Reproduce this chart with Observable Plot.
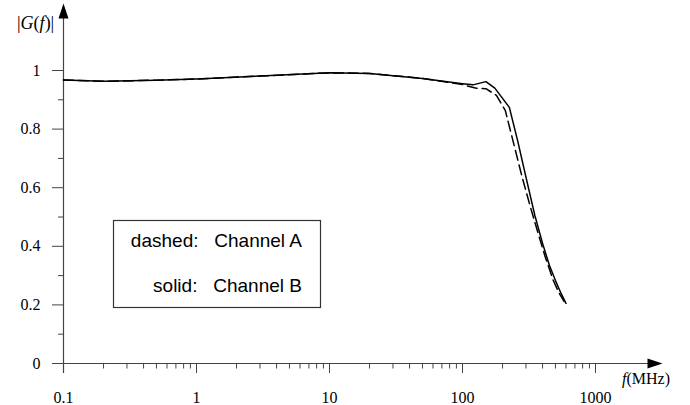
<!DOCTYPE html>
<html><head><meta charset="utf-8">
<script src="https://cdn.jsdelivr.net/npm/d3@7"></script>
<script src="https://cdn.jsdelivr.net/npm/@observablehq/plot@0.6"></script>
<style>
body{margin:0;background:#fff;}
#wrap{width:690px;height:405px;}
</style></head><body><div id="wrap"></div>
<script>
// ---- data (frequency in MHz, |G(f)|) ----
const freqB = [0.1, 0.2, 0.5, 1, 3, 10, 20, 50, 100, 120, 150, 175, 225, 260, 300, 350, 400, 450, 500, 550, 600];
const gainB = [0.968, 0.963, 0.967, 0.971, 0.981, 0.992, 0.990, 0.973, 0.955, 0.951, 0.962, 0.940, 0.874, 0.760, 0.636, 0.505, 0.410, 0.335, 0.283, 0.240, 0.205];
const freqA = [0.1, 0.2, 0.5, 1, 3, 10, 20, 50, 100, 125, 150, 180, 210, 250, 280, 325, 365, 420, 480, 530, 580];
const gainA = [0.968, 0.963, 0.967, 0.971, 0.981, 0.992, 0.990, 0.973, 0.952, 0.940, 0.938, 0.915, 0.863, 0.727, 0.638, 0.532, 0.454, 0.362, 0.285, 0.242, 0.212];

const xMajorTicks = [0.1, 1, 10, 100, 1000];
const xMinorTicks = [0.2,0.3,0.4,0.5,0.6,0.7,0.8,0.9, 2,3,4,5,6,7,8,9, 20,30,40,50,60,70,80,90, 200,300,400,500,600,700,800,900];
const yMajorTicks = [0, 0.2, 0.4, 0.6, 0.8, 1];
const yMinorTicks = [0.1, 0.3, 0.5, 0.7, 0.9];
const yLabelParts = [["|", false], ["G", true], ["(", false], ["f", true], [")|", false]];
const xLabelParts = [["f", true], ["(MHz)", false]];
const legendLabels = ["dashed:   Channel A", "solid:   Channel B"];

// axis extents in data units
const xAxisStart = 0.083, xAxisEnd = 2500, xArrowTip = 3190;
const yAxisStart = -0.034, yAxisEnd = 1.19, yArrowTip = 1.229;

const dataA = freqA.map((f, i) => ({f, g: gainA[i]}));
const dataB = freqB.map((f, i) => ({f, g: gainB[i]}));

const serif = "'Liberation Serif', 'Times New Roman', serif";
const sans = "'Liberation Sans', Arial, sans-serif";
const axisColor = "#444";

const arrowHead = {
  draw(context, l) {
    context.moveTo(0, -l);
    context.lineTo(-5, 0);
    context.lineTo(5, 0);
    context.closePath();
  }
};

const chart = Plot.plot({
  width: 690, height: 405,
  marginLeft: 63, marginRight: 95, marginTop: 70, marginBottom: 42,
  x: {type: "log", domain: [0.1, 1000]},
  y: {domain: [0, 1]},
  style: {fontFamily: serif, fontSize: "16px", color: "black", background: "white"},
  marks: [
    Plot.ruleY([0], {x1: xAxisStart, x2: xAxisEnd, stroke: axisColor, strokeWidth: 1.2}),
    Plot.ruleX([0.1], {y1: yAxisStart, y2: yAxisEnd, stroke: axisColor, strokeWidth: 1.2}),
    Plot.vector([{x: 0.1, y: yArrowTip}], {x: "x", y: "y", length: 15, rotate: 0, anchor: "end", shape: arrowHead, fill: "black", stroke: "none"}),
    Plot.vector([{x: xArrowTip, y: 0}], {x: "x", y: "y", length: 15, rotate: 90, anchor: "end", shape: arrowHead, fill: "black", stroke: "none"}),
    Plot.axisX(xMajorTicks, {tickSize: 10, tickPadding: 18, tickFormat: d => String(d), stroke: axisColor, label: null}),
    Plot.axisX(xMinorTicks, {tickSize: 5.5, fill: "none", stroke: axisColor, label: null}),
    Plot.axisY(yMajorTicks, {tickSize: 11, tickPadding: 12, tickFormat: d => String(d), stroke: axisColor, label: null}),
    Plot.axisY(yMinorTicks, {tickSize: 5, fill: "none", stroke: axisColor, label: null}),
    Plot.line(dataA, {x: "f", y: "g", stroke: "black", strokeWidth: 1.5, strokeDasharray: "10,5"}),
    Plot.line(dataB, {x: "f", y: "g", stroke: "black", strokeWidth: 1.5})
  ]
});

const svg = d3.select(chart);
const yl = svg.append("text").attr("x", 17).attr("y", 29).attr("text-anchor", "start")
  .attr("font-family", serif).attr("font-size", 18).attr("fill", "black");
yLabelParts.forEach(([t, it]) => yl.append("tspan").attr("font-style", it ? "italic" : "normal").text(t));
const xl = svg.append("text").attr("x", 622).attr("y", 384).attr("text-anchor", "start")
  .attr("font-family", serif).attr("font-size", 16).attr("fill", "black");
xLabelParts.forEach(([t, it]) => xl.append("tspan").attr("font-style", it ? "italic" : "normal").text(t));

svg.append("rect").attr("x", 113.5).attr("y", 220.5).attr("width", 207).attr("height", 87)
  .attr("fill", "white").attr("stroke", "#333").attr("stroke-width", 1.2);
legendLabels.forEach((t, i) => {
  svg.append("text").attr("x", 302).attr("y", 247 + i * 45).attr("text-anchor", "end")
    .attr("font-family", sans).attr("font-size", 19).attr("fill", "black")
    .style("white-space", "pre").text(t);
});

document.getElementById("wrap").appendChild(chart);
</script></body></html>
